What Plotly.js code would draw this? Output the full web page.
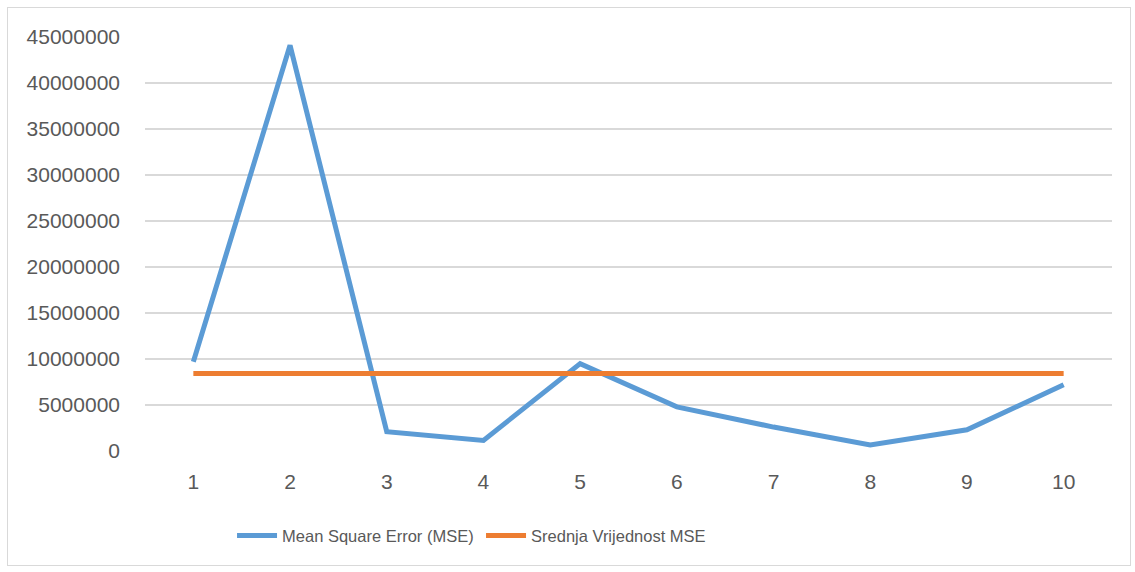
<!DOCTYPE html>
<html>
<head>
<meta charset="utf-8">
<script src="https://cdn.plot.ly/plotly-3.0.1.min.js"></script>
<style>
body{margin:0;padding:0;background:#fff;}
#wrap{position:relative;width:1135px;height:572px;}
#chart{position:absolute;left:0;top:0;width:1135px;height:572px;}
#frame{position:absolute;left:7px;top:7px;width:1122px;height:557px;border:1px solid #d9d9d9;pointer-events:none;}
</style>
</head>
<body>
<div id="wrap"><div id="chart"></div><div id="frame"></div></div>
<script>
const categories = [1, 2, 3, 4, 5, 6, 7, 8, 9, 10];
const mseValues = [9700000, 44100000, 2100000, 1150000, 9500000, 4800000, 2600000, 650000, 2300000, 7200000];
const meanValues = [8420000, 8420000, 8420000, 8420000, 8420000, 8420000, 8420000, 8420000, 8420000, 8420000];
const seriesNames = ["Mean Square Error (MSE)", "Srednja Vrijednost MSE"];
const yTicks = [0, 5000000, 10000000, 15000000, 20000000, 25000000, 30000000, 35000000, 40000000, 45000000];

const font = {family: "Liberation Sans, Arial, sans-serif", size: 21, color: "#595959"};

const traces = [
  {x: categories, y: mseValues, name: seriesNames[0], type: "scatter", mode: "lines",
   line: {color: "#5B9BD5", width: 5, shape: "linear"}},
  {x: categories, y: meanValues, name: seriesNames[1], type: "scatter", mode: "lines",
   line: {color: "#ED7D31", width: 5}}
];

const layout = {
  width: 1135, height: 572,
  margin: {l: 145, r: 23, t: 37, b: 121},
  paper_bgcolor: "#fff", plot_bgcolor: "#fff",
  font: font,
  showlegend: true,
  legend: {orientation: "h", x: 0.09, xanchor: "left", y: -0.205, yanchor: "middle",
           font: {family: "Liberation Sans, Arial, sans-serif", size: 16.5, color: "#595959"},
           itemwidth: 40, entrywidth: 194},
  xaxis: {range: [0.5, 10.5], tickvals: categories, ticktext: categories.map(String),
          showgrid: false, zeroline: false, showline: false, ticks: "",
          ticklabelstandoff: 16, tickfont: font, fixedrange: true},
  yaxis: {range: [0, 45000000], tickvals: yTicks, ticktext: yTicks.map(String),
          showgrid: true, gridcolor: "#d9d9d9", gridwidth: 1.3, zeroline: false, showline: false,
          ticks: "", ticklabelstandoff: 24, tickfont: font, fixedrange: true, automargin: false}
};

Plotly.newPlot("chart", traces, layout, {displayModeBar: false, staticPlot: true});
</script>
</body>
</html>
